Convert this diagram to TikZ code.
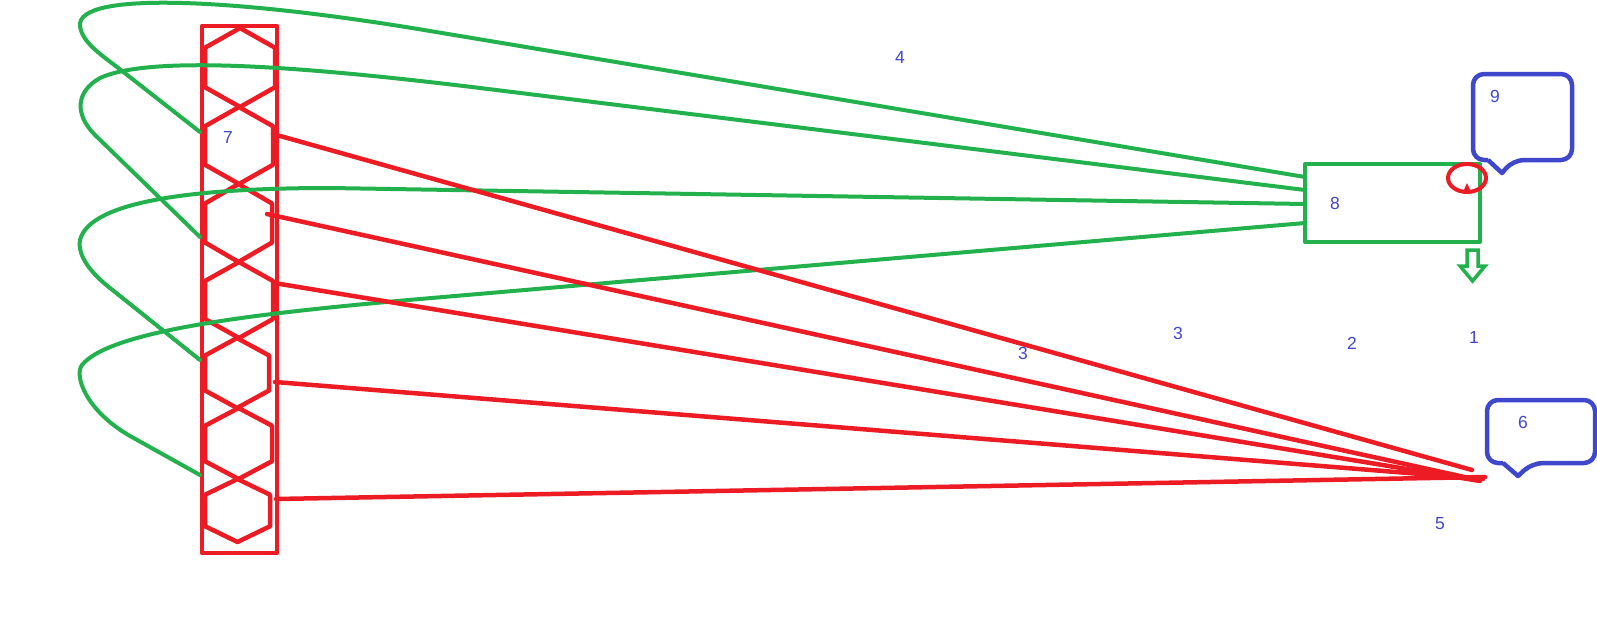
\documentclass[tikz,border=0pt]{standalone}
\usepackage{fontspec}
\setmainfont{Liberation Sans}
\definecolor{pred}{HTML}{ED1C24}
\definecolor{pgreen}{HTML}{22B14C}
\definecolor{pblue}{HTML}{3F48CC}
\begin{document}
\begin{tikzpicture}[x=1pt,y=-1pt,
  redline/.style={draw=pred,line width=4.5pt,line cap=round,line join=round},
  greenline/.style={draw=pgreen,line width=4pt,line cap=round,line join=round},
  blueline/.style={draw=pblue,line width=4.5pt,line join=round},
  lbl/.style={text=pblue,inner sep=0pt,font=\fontsize{17.5}{20}\selectfont}]
\fill[white] (0,0) rectangle (1597,626);
\useasboundingbox (0,0) rectangle (1597,626);

% red column with hexagons
\node[redline,minimum width=75pt,minimum height=527pt,inner sep=0pt] (col) at (239.5,289.5) {};
\foreach \t/\b/\l/\r in {28/107/205/275, 107/184/205/273, 184/262/205/272, 262/338/205/273,
                         338/408/205/269, 408/479/205/272, 479/542/205/270}{
  \draw[redline] ({(\l+\r)/2},\t) -- (\r,{\t+(\b-\t)/4}) -- (\r,{\b-(\b-\t)/4})
     -- ({(\l+\r)/2},\b) -- (\l,{\b-(\b-\t)/4}) -- (\l,{\t+(\b-\t)/4}) -- cycle;
}
\node[lbl] (l7) at (228,137) {7};

% green box 8
\node[greenline,minimum width=175pt,minimum height=78pt,inner sep=0pt] (box) at (1392.5,203) {};
\node[lbl] (l8) at (1335,203) {8};

% end points
\coordinate (b1) at (1305,177);
\coordinate (b2) at (1305,190);
\coordinate (b3) at (1305,204);
\coordinate (b4) at (1305,223);
\coordinate (g1) at (200,132);
\coordinate (g2) at (200,237);
\coordinate (g3) at (200,360);
\coordinate (g4) at (200,475);
\coordinate (r1) at (273,134);
\coordinate (r2) at (267,214);
\coordinate (r3) at (274,283);
\coordinate (r4) at (275,382);
\coordinate (r5) at (276,499);
\coordinate (e1) at (1472,470);
\coordinate (e2) at (1478,480);
\coordinate (e3) at (1480,481);
\coordinate (e4) at (1483,479);
\coordinate (e5) at (1485,477);

% green loops
\draw[greenline] (b1) -- (430,31) .. controls (240,-1) and (76,-10) .. (80,26)
   .. controls (82,42) and (100,54) .. (117,67) -- (g1);
\draw[greenline] (b2) -- (480,88) .. controls (300,66) and (150,55) .. (100,78)
   .. controls (75,92) and (75,115) .. (95,135) -- (g2);
\draw[greenline] (b3) -- (330,188) .. controls (200,188) and (90,200) .. (80,240)
   .. controls (77,256) and (92,274) .. (110,288) -- (g3);
\draw[greenline] (b4) -- (420,299) .. controls (260,313) and (110,330) .. (82,365)
   .. controls (74,375) and (85,410) .. (130,436) -- (g4);

% red lines
\draw[redline] (r1) -- (e1);
\draw[redline] (r2) -- (e2);
\draw[redline] (r3) -- (e3);
\draw[redline] (r4) -- (e4);
\draw[redline] (r5) -- (e5);

% red circle with small tip
\draw[draw=pred,line width=4pt] (1467,178) ellipse [x radius=19pt, y radius=14pt];
\fill[pred] (1463,192) -- (1471,192) -- (1467,183) -- cycle;

% green hollow arrow
\draw[greenline,line cap=butt,line join=miter,line width=3.5pt] (1467,250) -- (1478,250) -- (1478,266) -- (1485,266)
   -- (1472.5,281) -- (1460,266) -- (1467,266) -- cycle;

% callouts
\draw[blueline,rounded corners=11pt] (1488,160) -- (1473,160) -- (1473,74) -- (1572,74) -- (1572,160) -- (1513,160)
   [sharp corners] -- (1502,173) -- (1488,160);
\node[lbl] (l9) at (1495,96) {9};
\draw[blueline,rounded corners=11pt] (1503,463) -- (1487,463) -- (1487,400) -- (1595,400) -- (1595,463) -- (1532,463)
   [sharp corners] -- (1518,476) -- (1503,463);
\node[lbl] (l6) at (1523,422) {6};

% loose labels
\node[lbl] (l4) at (900,57) {4};
\node[lbl] (l3a) at (1023,353) {3};
\node[lbl] (l3b) at (1178,333) {3};
\node[lbl] (l2) at (1352,343) {2};
\node[lbl] (l1) at (1474,337) {1};
\node[lbl] (l5) at (1440,524) {5};
\end{tikzpicture}
\end{document}
